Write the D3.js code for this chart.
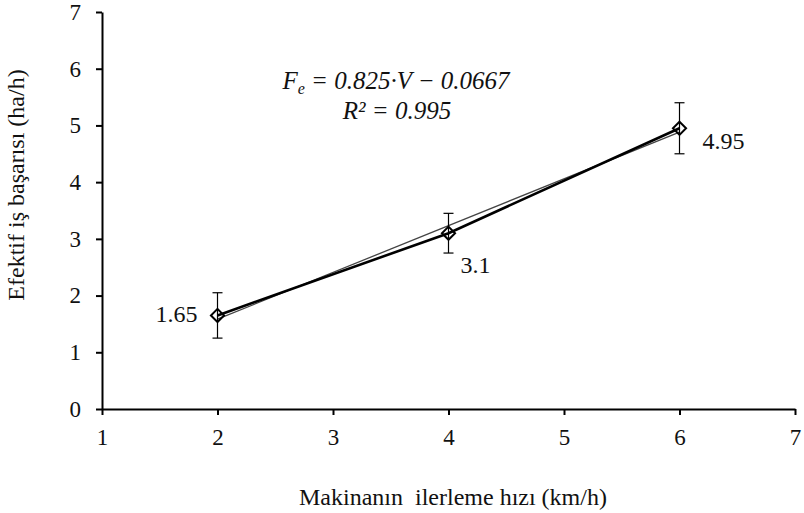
<!DOCTYPE html>
<html>
<head>
<meta charset="utf-8">
<script src="https://cdn.jsdelivr.net/npm/d3@7"></script>
<style>
  body { margin: 0; background: #fff; }
</style>
</head>
<body>
<div id="chart"></div>
<script>
// data
const speeds = [2, 4, 6];
const capacity = [1.65, 3.1, 4.95];
const errors = [0.4, 0.35, 0.45];
const pointLabels = ["1.65", "3.1", "4.95"];
const xTicks = [1, 2, 3, 4, 5, 6, 7];
const yTicks = [0, 1, 2, 3, 4, 5, 6, 7];
const trendSlope = 0.825;
const trendIntercept = -0.0667;

const width = 804;
const height = 513;
const serif = "Liberation Serif";

const x = d3.scaleLinear().domain([1, 7]).range([102, 795]);
const y = d3.scaleLinear().domain([0, 7]).range([409, 12]);

const svg = d3.select("#chart").append("svg")
  .attr("width", width)
  .attr("height", height)
  .attr("font-family", serif)
  .style("font-family", serif);

// axes
const xAxis = svg.append("g")
  .attr("transform", `translate(0, ${y(0)})`)
  .call(d3.axisBottom(x).tickValues(xTicks).tickFormat(d3.format("d"))
    .tickSize(6).tickSizeOuter(0).tickPadding(14));
const yAxis = svg.append("g")
  .attr("transform", `translate(${x(1)}, 0)`)
  .call(d3.axisLeft(y).tickValues(yTicks).tickFormat(d3.format("d"))
    .tickSize(6).tickSizeOuter(0).tickPadding(15));

[xAxis, yAxis].forEach(ax => {
  ax.attr("font-family", serif);
  ax.select(".domain").attr("stroke", "#000").attr("stroke-width", 2);
  ax.selectAll(".tick line").attr("stroke", "#000").attr("stroke-width", 2);
  ax.selectAll(".tick text")
    .attr("font-size", 23)
    .attr("font-family", serif)
    .attr("fill", "#111");
});

// trend line
const trend = d3.line()
  .x(d => x(d))
  .y(d => y(trendSlope * d + trendIntercept));
svg.append("path")
  .attr("d", trend([speeds[0], speeds[speeds.length - 1]]))
  .attr("fill", "none")
  .attr("stroke", "#444")
  .attr("stroke-width", 1.3);

// data line
const line = d3.line()
  .x((d, i) => x(speeds[i]))
  .y(d => y(d));
svg.append("path")
  .attr("d", line(capacity))
  .attr("fill", "none")
  .attr("stroke", "#000")
  .attr("stroke-width", 2.6);

// error bars
const bars = svg.append("g").selectAll("g")
  .data(capacity)
  .enter()
  .append("g");
bars.append("line")
  .attr("x1", (d, i) => x(speeds[i]))
  .attr("x2", (d, i) => x(speeds[i]))
  .attr("y1", (d, i) => y(d + errors[i]))
  .attr("y2", (d, i) => y(d - errors[i]))
  .attr("stroke", "#000")
  .attr("stroke-width", 1.2);
[1, -1].forEach(sign => {
  bars.append("line")
    .attr("x1", (d, i) => x(speeds[i]) - 5)
    .attr("x2", (d, i) => x(speeds[i]) + 5)
    .attr("y1", (d, i) => y(d + sign * errors[i]))
    .attr("y2", (d, i) => y(d + sign * errors[i]))
    .attr("stroke", "#000")
    .attr("stroke-width", 1.2);
});

// diamond markers
svg.append("g").selectAll("path")
  .data(capacity)
  .enter()
  .append("path")
  .attr("d", d3.symbol().type(d3.symbolDiamond2).size(110))
  .attr("transform", (d, i) => `translate(${x(speeds[i])}, ${y(d)})`)
  .attr("fill", "none")
  .attr("stroke", "#000")
  .attr("stroke-width", 2);

// point labels
const labelOffsets = [[-20, 7, "end"], [12, 40, "start"], [23, 21, "start"]];
svg.append("g").selectAll("text")
  .data(capacity)
  .enter()
  .append("text")
  .attr("x", (d, i) => x(speeds[i]) + labelOffsets[i][0])
  .attr("y", (d, i) => y(d) + labelOffsets[i][1])
  .attr("text-anchor", (d, i) => labelOffsets[i][2])
  .attr("font-size", 24)
  .attr("fill", "#111")
  .text((d, i) => pointLabels[i]);

// equation
const eq = svg.append("text")
  .attr("x", 396)
  .attr("y", 89)
  .attr("text-anchor", "middle")
  .attr("font-size", 25)
  .attr("font-style", "italic")
  .attr("fill", "#111");
eq.append("tspan").text("F");
eq.append("tspan").attr("font-size", 16).attr("dy", 5).text("e");
eq.append("tspan").attr("dy", -5).text(" = 0.825·V − 0.0667");
svg.append("text")
  .attr("x", 397)
  .attr("y", 119)
  .attr("text-anchor", "middle")
  .attr("font-size", 25)
  .attr("font-style", "italic")
  .attr("fill", "#111")
  .text("R² = 0.995");

// axis titles
svg.append("text")
  .attr("x", 453)
  .attr("y", 505)
  .attr("text-anchor", "middle")
  .attr("font-size", 24)
  .attr("fill", "#111")
  .attr("xml:space", "preserve")
  .text("Makinanın  ilerleme hızı (km/h)");
svg.append("text")
  .attr("transform", "translate(24, 185) rotate(-90)")
  .attr("text-anchor", "middle")
  .attr("font-size", 24)
  .attr("fill", "#111")
  .text("Efektif iş başarısı (ha/h)");
</script>
</body>
</html>
